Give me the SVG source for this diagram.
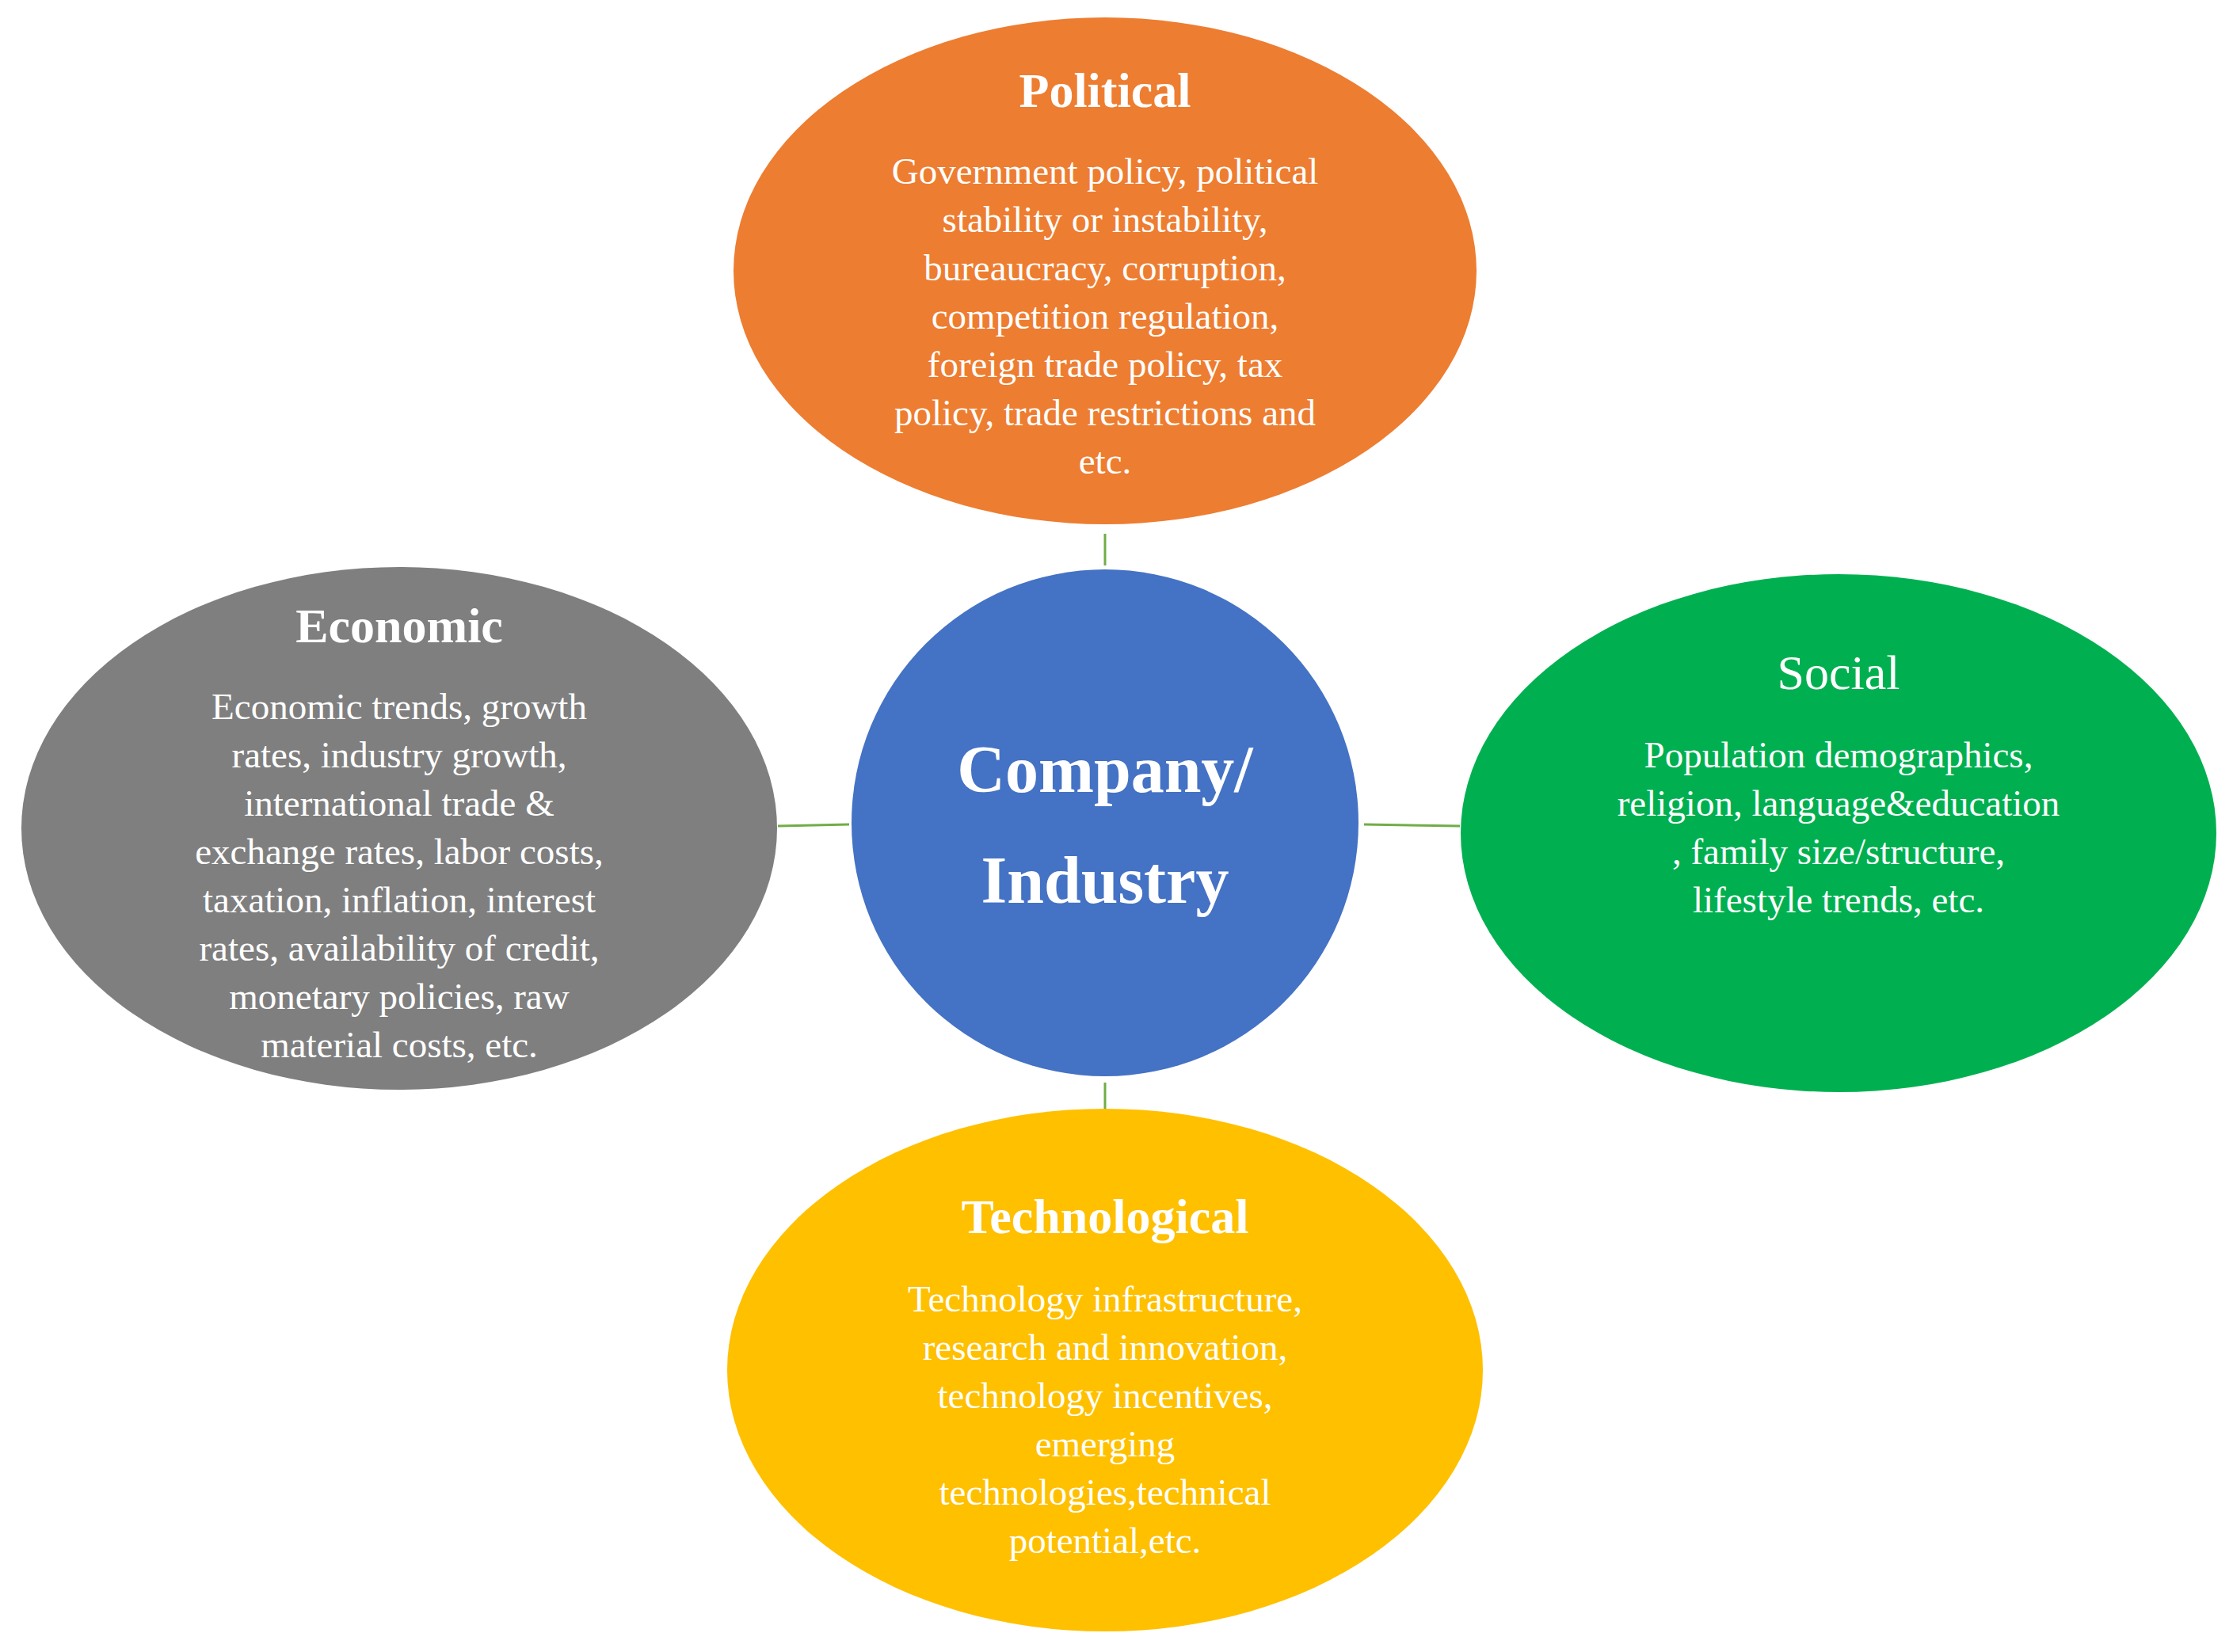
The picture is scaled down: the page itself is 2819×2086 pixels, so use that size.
<svg xmlns="http://www.w3.org/2000/svg" width="2819" height="2086" viewBox="0 0 2819 2086">
<style>
.b{font-family:"Liberation Serif",serif;font-size:47px;fill:#fff;text-anchor:middle}
.t{font-family:"Liberation Serif",serif;font-size:62px;fill:#fff;text-anchor:middle;font-weight:bold}
.c{font-family:"Liberation Serif",serif;font-size:84px;fill:#fff;text-anchor:middle;font-weight:bold}
.l{stroke:#70AD47;stroke-width:3;fill:none}
</style>
<rect width="2819" height="2086" fill="#fff"/>
<g id="connectors">
<line class="l" x1="1395" y1="674" x2="1395" y2="714"/>
<line class="l" x1="1395" y1="1367" x2="1395" y2="1406"/>
<line class="l" x1="982" y1="1043" x2="1072" y2="1041"/>
<line class="l" x1="1722" y1="1041" x2="1843" y2="1043"/>
</g>
<g id="political">
<ellipse cx="1395" cy="342" rx="469" ry="320" fill="#ED7D31"/>
<text class="t" x="1395" y="135">Political</text>
<text class="b" x="1395" y="232">Government policy, political</text>
<text class="b" x="1395" y="293">stability or instability,</text>
<text class="b" x="1395" y="354">bureaucracy, corruption,</text>
<text class="b" x="1395" y="415">competition regulation,</text>
<text class="b" x="1395" y="476">foreign trade policy, tax</text>
<text class="b" x="1395" y="537">policy, trade restrictions and</text>
<text class="b" x="1395" y="598">etc.</text>
</g>
<g id="economic">
<ellipse cx="504" cy="1046" rx="477" ry="330" fill="#7F7F7F"/>
<text class="t" x="504" y="811">Economic</text>
<text class="b" x="504" y="908">Economic trends, growth</text>
<text class="b" x="504" y="969">rates, industry growth,</text>
<text class="b" x="504" y="1030">international trade &amp;</text>
<text class="b" x="504" y="1091">exchange rates, labor costs,</text>
<text class="b" x="504" y="1152">taxation, inflation, interest</text>
<text class="b" x="504" y="1213">rates, availability of credit,</text>
<text class="b" x="504" y="1274">monetary policies, raw</text>
<text class="b" x="504" y="1335">material costs, etc.</text>
</g>
<g id="center">
<circle cx="1395" cy="1039" r="320" fill="#4472C4"/>
<text class="c" x="1395" y="1000">Company/</text>
<text class="c" x="1395" y="1140">Industry</text>
</g>
<g id="social">
<ellipse cx="2321" cy="1052" rx="477" ry="327" fill="#00B050"/>
<text class="t" x="2321" y="870" font-weight="normal" style="font-weight:normal">Social</text>
<text class="b" x="2321" y="969">Population demographics,</text>
<text class="b" x="2321" y="1030">religion, language&amp;education</text>
<text class="b" x="2321" y="1091">, family size/structure,</text>
<text class="b" x="2321" y="1152">lifestyle trends, etc.</text>
</g>
<g id="technological">
<ellipse cx="1395" cy="1730" rx="477" ry="330" fill="#FFC000"/>
<text class="t" x="1395" y="1557">Technological</text>
<text class="b" x="1395" y="1656">Technology infrastructure,</text>
<text class="b" x="1395" y="1717">research and innovation,</text>
<text class="b" x="1395" y="1778">technology incentives,</text>
<text class="b" x="1395" y="1839">emerging</text>
<text class="b" x="1395" y="1900">technologies,technical</text>
<text class="b" x="1395" y="1961">potential,etc.</text>
</g>
</svg>
